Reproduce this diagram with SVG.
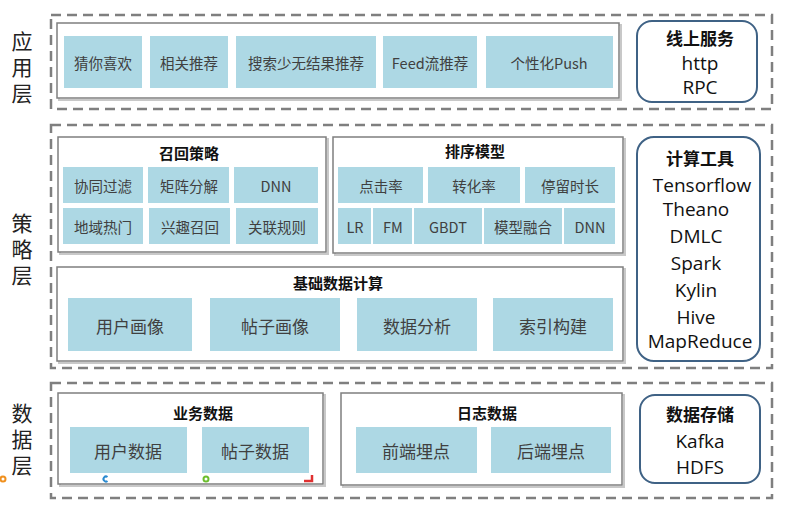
<svg xmlns="http://www.w3.org/2000/svg" width="787" height="507" viewBox="0 0 787 507">
<defs>
<style>
.layer{fill:none;stroke:#7f7f7f;stroke-width:2.5;stroke-dasharray:10 6}
.panel{fill:#fff;stroke:#7f7f7f;stroke-width:1.5}
.shadow{fill:none;stroke:#c8c8c8;stroke-width:2}
.item{fill:#add8e4}
.tool{fill:#fff;stroke:#3f6285;stroke-width:2}
text{font-family:"Noto Sans CJK SC","Noto Sans",sans-serif;fill:#404040;text-anchor:middle;dominant-baseline:central}
.it{font-size:14.5px}
.big{font-size:17px}
.ttl{font-size:15px;font-weight:bold;fill:#111}
.tt{font-size:17px;font-weight:bold;fill:#111}
.tl{font-family:"Open Sans","Noto Sans",sans-serif;font-size:19px;fill:#111}
.lay{font-size:21px;fill:#222;writing-mode:vertical-rl;letter-spacing:5px}
</style>
</defs>
<rect width="787" height="507" fill="#fff"/>

<g id="layer-labels">
<text class="lay" x="22" y="70">应用层</text>
<text class="lay" x="22" y="252">策略层</text>
<text class="lay" x="22" y="442">数据层</text>
</g>

<g id="layers">
<rect class="layer" x="51" y="15" width="721" height="94"/>
<rect class="layer" x="51" y="125" width="721" height="243"/>
<rect class="layer" x="51" y="383" width="721" height="115"/>
</g>

<g id="app">
<rect class="shadow" x="59" y="25" width="562" height="75"/>
<rect class="panel" x="57" y="23" width="562" height="75"/>
<g id="app-1"><rect class="item" x="64" y="36" width="78" height="52"/><text class="it" x="103" y="62">猜你喜欢</text></g>
<g id="app-2"><rect class="item" x="150" y="36" width="78" height="52"/><text class="it" x="189" y="62">相关推荐</text></g>
<g id="app-3"><rect class="item" x="236" y="36" width="140" height="52"/><text class="it" x="306" y="62">搜索少无结果推荐</text></g>
<g id="app-4"><rect class="item" x="383" y="36" width="94" height="52"/><text class="it" x="430" y="62">Feed流推荐</text></g>
<g id="app-5"><rect class="item" x="486" y="36" width="127" height="52"/><text class="it" x="549" y="62">个性化Push</text></g>
</g>

<g id="online-service">
<rect class="tool" x="637" y="21" width="120" height="81" rx="15"/>
<text class="tt" x="700" y="37">线上服务</text>
<text class="tl" x="700" y="63">http</text>
<text class="tl" x="700" y="87">RPC</text>
</g>

<g id="recall">
<rect class="shadow" x="60" y="139" width="268" height="115"/>
<rect class="panel" x="58" y="137" width="268" height="115"/>
<text class="ttl" x="189" y="152">召回策略</text>
<g id="recall-1"><rect class="item" x="63" y="167" width="80" height="36"/><text class="it" x="103" y="185">协同过滤</text></g>
<g id="recall-2"><rect class="item" x="148" y="167" width="81" height="36"/><text class="it" x="189" y="185">矩阵分解</text></g>
<g id="recall-3"><rect class="item" x="234" y="167" width="84" height="36"/><text class="it" x="276" y="185">DNN</text></g>
<g id="recall-4"><rect class="item" x="63" y="208" width="80" height="36"/><text class="it" x="103" y="226">地域热门</text></g>
<g id="recall-5"><rect class="item" x="149" y="208" width="81" height="36"/><text class="it" x="190" y="226">兴趣召回</text></g>
<g id="recall-6"><rect class="item" x="236" y="208" width="82" height="36"/><text class="it" x="277" y="226">关联规则</text></g>
</g>

<g id="rank">
<rect class="shadow" x="335" y="139" width="290" height="116"/>
<rect class="panel" x="333" y="137" width="290" height="116"/>
<text class="ttl" x="475" y="150">排序模型</text>
<g id="rank-1"><rect class="item" x="338" y="167" width="85" height="36"/><text class="it" x="381" y="185">点击率</text></g>
<g id="rank-2"><rect class="item" x="428" y="167" width="92" height="36"/><text class="it" x="474" y="185">转化率</text></g>
<g id="rank-3"><rect class="item" x="525" y="167" width="90" height="36"/><text class="it" x="570" y="185">停留时长</text></g>
<g id="rank-4"><rect class="item" x="338" y="208" width="33" height="36"/><text class="it" x="355" y="226">LR</text></g>
<g id="rank-5"><rect class="item" x="373" y="208" width="39" height="36"/><text class="it" x="393" y="226">FM</text></g>
<g id="rank-6"><rect class="item" x="414" y="208" width="68" height="36"/><text class="it" x="448" y="226">GBDT</text></g>
<g id="rank-7"><rect class="item" x="484" y="208" width="78" height="36"/><text class="it" x="523" y="226">模型融合</text></g>
<g id="rank-8"><rect class="item" x="564" y="208" width="51" height="36"/><text class="it" x="590" y="226">DNN</text></g>
</g>

<g id="base">
<rect class="shadow" x="59" y="269" width="566" height="94"/>
<rect class="panel" x="57" y="267" width="566" height="94"/>
<text class="ttl" x="338" y="282">基础数据计算</text>
<g id="base-1"><rect class="item" x="68" y="298" width="124" height="53"/><text class="big" x="130" y="325">用户画像</text></g>
<g id="base-2"><rect class="item" x="210" y="298" width="130" height="53"/><text class="big" x="275" y="325">帖子画像</text></g>
<g id="base-3"><rect class="item" x="357" y="298" width="120" height="53"/><text class="big" x="417" y="325">数据分析</text></g>
<g id="base-4"><rect class="item" x="493" y="298" width="120" height="53"/><text class="big" x="553" y="325">索引构建</text></g>
</g>

<g id="compute-tools">
<rect class="tool" x="637" y="137" width="123" height="224" rx="17"/>
<text class="tt" x="700" y="157">计算工具</text>
<text class="tl" x="702" y="185">Tensorflow</text>
<text class="tl" x="696" y="209">Theano</text>
<text class="tl" x="696" y="236">DMLC</text>
<text class="tl" x="696" y="263">Spark</text>
<text class="tl" x="696" y="290">Kylin</text>
<text class="tl" x="696" y="317">Hive</text>
<text class="tl" x="700" y="341">MapReduce</text>
</g>

<g id="biz-data">
<rect class="shadow" x="60" y="395" width="265" height="91"/>
<rect class="panel" x="58" y="393" width="265" height="91"/>
<text class="ttl" x="203" y="412">业务数据</text>
<g id="biz-1"><rect class="item" x="70" y="427" width="117" height="46"/><text class="big" x="128" y="450">用户数据</text></g>
<g id="biz-2"><rect class="item" x="202" y="427" width="107" height="46"/><text class="big" x="255" y="450">帖子数据</text></g>
</g>

<g id="log-data">
<rect class="shadow" x="343" y="395" width="281" height="92"/>
<rect class="panel" x="341" y="393" width="281" height="92"/>
<text class="ttl" x="487" y="412">日志数据</text>
<g id="log-1"><rect class="item" x="356" y="427" width="121" height="46"/><text class="big" x="416" y="450">前端埋点</text></g>
<g id="log-2"><rect class="item" x="491" y="427" width="120" height="46"/><text class="big" x="551" y="450">后端埋点</text></g>
</g>

<g id="storage">
<rect class="tool" x="640" y="395" width="120" height="88" rx="15"/>
<text class="tt" x="700" y="413">数据存储</text>
<text class="tl" x="700" y="441">Kafka</text>
<text class="tl" x="700" y="467">HDFS</text>
</g>

<g id="marks">
<circle cx="3" cy="479" r="2.5" fill="none" stroke="#f0901e" stroke-width="2"/>
<path d="M107.5 477 A2.5 2.5 0 1 0 107.5 481" fill="none" stroke="#2a8ad0" stroke-width="2"/>
<circle cx="206" cy="479" r="2.5" fill="none" stroke="#6cbe2e" stroke-width="2"/>
<path d="M304 481 H312 V475" fill="none" stroke="#e03030" stroke-width="2.5"/>
</g>
</svg>
